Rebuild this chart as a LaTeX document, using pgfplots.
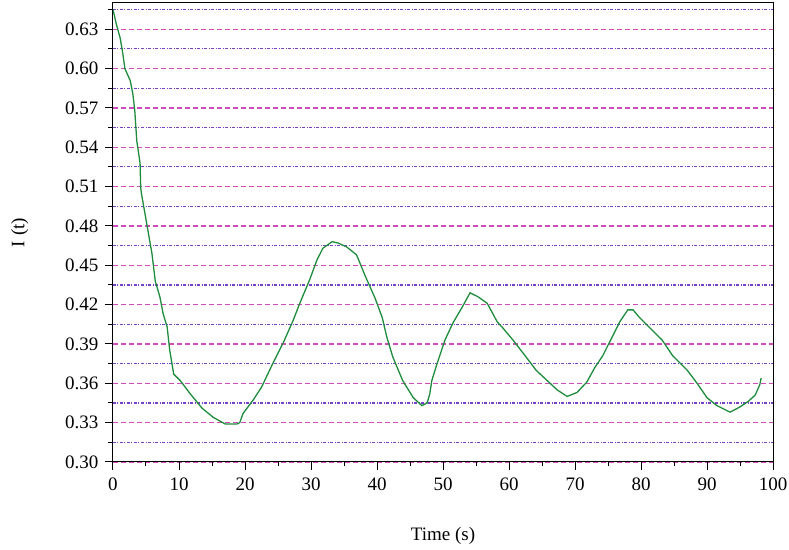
\documentclass[border=0pt]{standalone}
\usepackage{fontspec}
\setmainfont{Liberation Serif}
\usepackage{pgfplots}
\pgfplotsset{compat=1.18}
\definecolor{curvegreen}{HTML}{1E8C3C}
\definecolor{majgrid}{HTML}{D04CBC}
\definecolor{mingrid}{HTML}{7A40C8}
\begin{document}
\begin{tikzpicture}
\begin{axis}[
  scale only axis,
  width=660pt, height=459pt,
  xmin=0, xmax=100, ymin=0.30, ymax=0.65,
  xtick={0,10,20,30,40,50,60,70,80,90,100},
  minor xtick={5,15,25,35,45,55,65,75,85,95},
  ytick={0.30,0.33,0.36,0.39,0.42,0.45,0.48,0.51,0.54,0.57,0.60,0.63},
  minor ytick={0.315,0.345,0.375,0.405,0.435,0.465,0.495,0.525,0.555,0.585,0.615,0.645},
  tick align=outside,
  xtick pos=bottom, ytick pos=left,
  major tick length=8pt, minor tick length=4.5pt,
  axis line style={line width=1pt},
  tick style={line width=1pt, black},
  ymajorgrids, yminorgrids,
  grid style={line width=1.2pt},
  major grid style={majgrid, line width=1.2pt, dash pattern=on 5pt off 3pt},
  minor grid style={mingrid, line width=1.1pt, dash pattern=on 3pt off 1.5pt on 1pt off 1.5pt},
  /pgf/number format/assume math mode=true,
  yticklabel style={/pgf/number format/fixed, /pgf/number format/fixed zerofill, /pgf/number format/precision=2, xshift=-3pt},
  xticklabel style={yshift=-4pt},
  ticklabel style={font=\fontsize{19}{22}\selectfont},
  label style={font=\fontsize{19}{22}\selectfont},
  xlabel={Time (s)},
  ylabel={I (t)},
  xlabel style={yshift=-30pt},
  ylabel style={yshift=30pt},
]
\addplot[curvegreen, line width=1.3pt] coordinates {
(0,0.645) (0.5,0.634) (1.1,0.623) (1.5,0.611) (1.8,0.600) (2.6,0.591) (3.0,0.581)
(3.3,0.568) (3.6,0.545) (4.1,0.528) (4.2,0.509) (4.3,0.505) (5.1,0.482) (5.9,0.459)
(6.4,0.438) (7.1,0.426) (7.6,0.413) (8.2,0.403) (8.6,0.385) (9.2,0.367) (10.2,0.362)
(11.7,0.352) (13.5,0.341) (15.2,0.334) (17.0,0.329) (18.8,0.329) (19.2,0.330)
(19.7,0.337) (21.2,0.347) (22.5,0.357) (24.2,0.375) (25.8,0.391) (27.3,0.408)
(28.3,0.421) (29.8,0.439) (30.9,0.454) (31.8,0.463) (33.2,0.468) (34.1,0.467)
(35.4,0.464) (36.9,0.458) (38.2,0.442) (39.7,0.425) (40.8,0.410) (41.5,0.395)
(42.4,0.380) (43.9,0.362) (45.5,0.349) (46.8,0.343) (47.6,0.345) (48.0,0.352)
(48.3,0.362) (49.1,0.375) (50.3,0.393) (51.5,0.406) (52.9,0.418) (54.1,0.429)
(55.3,0.426) (56.7,0.421) (58.2,0.407) (59.1,0.402) (60.6,0.393) (62.6,0.380)
(64.1,0.370) (65.8,0.362) (67.3,0.355) (68.8,0.350) (70.3,0.353) (71.8,0.361)
(73.0,0.372) (74.2,0.381) (75.6,0.395) (76.8,0.407) (78.0,0.416) (78.8,0.416)
(79.8,0.410) (81.4,0.402) (83.2,0.393) (84.8,0.381) (87.0,0.370) (88.5,0.360)
(90.0,0.349) (91.5,0.343) (93.5,0.338) (95.0,0.342) (96.2,0.346) (97.3,0.351)
(98.0,0.359) (98.2,0.364)
};
\end{axis}
\pgfresetboundingbox
\path ([xshift=-113pt,yshift=-88pt]current axis.south west) rectangle ([xshift=16pt,yshift=3pt]current axis.north east);
\end{tikzpicture}
\end{document}
